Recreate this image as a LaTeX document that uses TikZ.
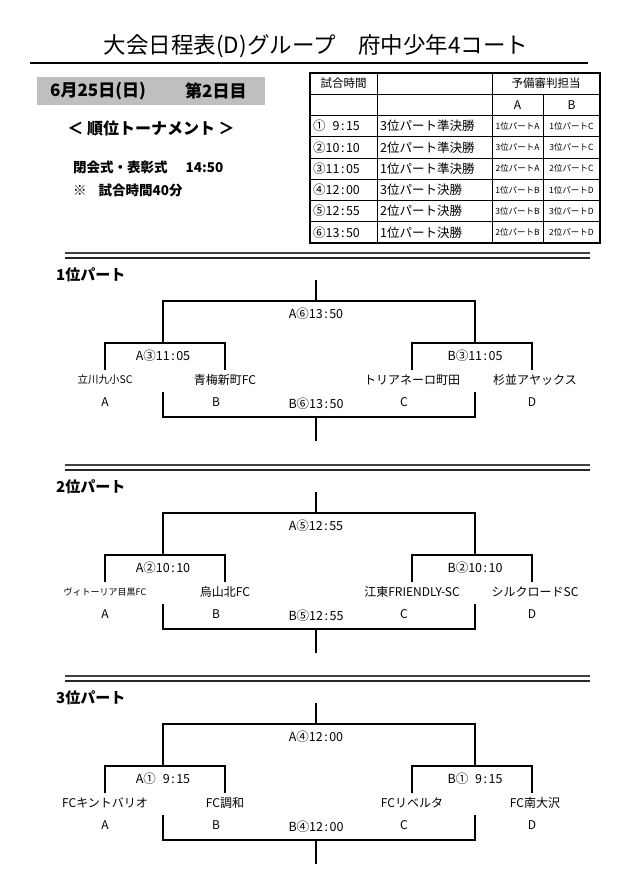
\documentclass[tikz,border=0pt]{standalone}
\usepackage{fontspec}
\setmainfont{Noto Sans CJK JP}
\newcommand\tm[2]{#1\kern1.5pt:\kern1.5pt#2}
\newcommand\fs[1]{\fontsize{#1}{#1}\selectfont}
\tikzset{
  br/.style={line width=2.2pt},
  brb/.style={line width=1.3pt},
  sepa/.style={line width=1.7pt, black!75},
  sepb/.style={line width=2pt, black!85},
  lbl/.style={font=\fs{12.5}, inner sep=0pt},
  team/.style={font=\fs{12}, inner sep=0pt},
  steam/.style={font=\fs{10.5}, inner sep=0pt},
  letter/.style={font=\fs{12}, inner sep=0pt},
  head/.style={font=\bfseries\fs{15}, anchor=west, inner sep=0pt},
  tout/.style={line width=1.3pt},
  tin/.style={line width=0.8pt},
  tcell/.style={font=\fs{12.5}, inner sep=0pt, anchor=west},
  tsmall/.style={font=\fs{8.5}, inner sep=0pt},
  thead/.style={font=\fs{11.5}, inner sep=0pt},
}
\newcommand\brk[2]{%
\begin{scope}[shift={(0,#2)}]
  \draw[sepa] (65,0) -- (590,0);
  \draw[sepb] (65,4.5) -- (590,4.5);
  \coordinate (#1a) at (316,27);
  \coordinate (#1b) at (316,48);
  \coordinate (#1c) at (163,90);
  \coordinate (#1d) at (475,90);
  \coordinate (#1e1) at (105,117);
  \coordinate (#1e2) at (225,117);
  \coordinate (#1e3) at (412,117);
  \coordinate (#1e4) at (532,117);
  \coordinate (#1f1) at (163,139);
  \coordinate (#1f2) at (475,139);
  \coordinate (#1h) at (316,164);
  \coordinate (#1g) at (316,188);
  \draw[br] (#1a) -- (#1b);
  \draw[br] (#1c) |- (#1b) -| (#1d);
  \draw[br] (#1e1) |- (#1c) -| (#1e2);
  \draw[br] (#1e3) |- (#1d) -| (#1e4);
  \draw[brb] (#1f1) |- (#1h) -| (#1f2);
  \draw[brb] (#1h) -- (#1g);
\end{scope}}
\begin{document}
\begin{tikzpicture}[x=1pt,y=-1pt]
\useasboundingbox (0,0) rectangle (639,883);
% title
\node[font=\fs{22.5}, inner sep=0pt] (title) at (316,46) {大会日程表(D)グループ　府中少年4コート};
\draw[line width=2pt] (30,63) -- (588,63);
% date box
\node[fill=black!25, minimum width=228pt, minimum height=28pt, inner sep=0pt, anchor=north west] (datebox) at (37,77) {};
\node[font=\bfseries\fs{17}, anchor=west, inner sep=0pt] (date) at (50,91) {6月25日(日)};
\node[font=\bfseries\fs{17}, anchor=west, inner sep=0pt] (day) at (185,91) {第2日目};
\node[font=\bfseries\fs{16}, inner sep=0pt] (sub) at (151,128) {＜ 順位トーナメント ＞};
\node[font=\bfseries\fs{13.5}, anchor=west, inner sep=0pt] (close) at (73,167) {閉会式・表彰式\hspace{18pt}14:50};
\node[font=\bfseries\fs{13.5}, anchor=west, inner sep=0pt] (note) at (73,190) {※\hspace{12pt}試合時間40分};
% table
\draw[tin] (310,94.25) -- (600,94.25);
\foreach \yy in {115.5,136.75,158,179.25,200.5,221.75} \draw[tin] (310,\yy) -- (600,\yy);
\draw[tin] (377,73) -- (377,243);
\draw[tin] (492,73) -- (492,243);
\draw[tin] (543,94.25) -- (543,243);
\draw[tout] (310,73) rectangle (600,243);
\node[thead] (th1) at (343.5,83.6) {試合時間};
\node[thead] (th2) at (546,83.6) {予備審判担当};
\node[thead, font=\fs{12}] (thA) at (517.5,104.9) {A};
\node[thead, font=\fs{12}] (thB) at (571.5,104.9) {B};
\node[tcell] (c11) at (313,126.1) {①\hphantom{1}\tm{9}{15}};
\node[tcell] (c21) at (313,147.4) {②\tm{10}{10}};
\node[tcell] (c31) at (313,168.6) {③\tm{11}{05}};
\node[tcell] (c41) at (313,189.9) {④\tm{12}{00}};
\node[tcell] (c51) at (313,211.1) {⑤\tm{12}{55}};
\node[tcell] (c61) at (313,232.4) {⑥\tm{13}{50}};
\node[tcell] (c12) at (380,126.1) {3位パート準決勝};
\node[tcell] (c22) at (380,147.4) {2位パート準決勝};
\node[tcell] (c32) at (380,168.6) {1位パート準決勝};
\node[tcell] (c42) at (380,189.9) {3位パート決勝};
\node[tcell] (c52) at (380,211.1) {2位パート決勝};
\node[tcell] (c62) at (380,232.4) {1位パート決勝};
\node[tsmall] (c13) at (517.5,126.1) {1位パートA};
\node[tsmall] (c23) at (517.5,147.4) {3位パートA};
\node[tsmall] (c33) at (517.5,168.6) {2位パートA};
\node[tsmall] (c43) at (517.5,189.9) {1位パートB};
\node[tsmall] (c53) at (517.5,211.1) {3位パートB};
\node[tsmall] (c63) at (517.5,232.4) {2位パートB};
\node[tsmall] (c14) at (571.5,126.1) {1位パートC};
\node[tsmall] (c24) at (571.5,147.4) {3位パートC};
\node[tsmall] (c34) at (571.5,168.6) {2位パートC};
\node[tsmall] (c44) at (571.5,189.9) {1位パートD};
\node[tsmall] (c54) at (571.5,211.1) {3位パートD};
\node[tsmall] (c64) at (571.5,232.4) {2位パートD};
% section 1
\brk{p}{253}
\begin{scope}[shift={(0,253)}]
  \node[head] (ph) at (56,22) {1位パート};
  \node[lbl] (pt) at (316,61) {A⑥\tm{13}{50}};
  \node[lbl] (pl) at (163,103) {A③\tm{11}{05}};
  \node[lbl] (pr) at (475,103) {B③\tm{11}{05}};
  \node[steam] (pn1) at (105,127) {立川九小SC};
  \node[team] (pn2) at (225,127) {青梅新町FC};
  \node[team] (pn3) at (412,127) {トリアネーロ町田};
  \node[team] (pn4) at (535,127) {杉並アヤックス};
  \node[letter] (pA) at (105,149) {A};
  \node[letter] (pB) at (216,149) {B};
  \node[letter] (pC) at (404,149) {C};
  \node[letter] (pD) at (532,149) {D};
  \node[lbl] (pbt) at (316,151) {B⑥\tm{13}{50}};
\end{scope}
% section 2
\brk{q}{465}
\begin{scope}[shift={(0,465)}]
  \node[head] (qh) at (56,22) {2位パート};
  \node[lbl] (qt) at (316,61) {A⑤\tm{12}{55}};
  \node[lbl] (ql) at (163,103) {A②\tm{10}{10}};
  \node[lbl] (qr) at (475,103) {B②\tm{10}{10}};
  \node[font=\fs{9}, inner sep=0pt] (qn1) at (105,127) {ヴィトーリア目黒FC};
  \node[team] (qn2) at (225,127) {烏山北FC};
  \node[team] (qn3) at (412,127) {江東FRIENDLY-SC};
  \node[team] (qn4) at (535,127) {シルクロードSC};
  \node[letter] (qA) at (105,149) {A};
  \node[letter] (qB) at (216,149) {B};
  \node[letter] (qC) at (404,149) {C};
  \node[letter] (qD) at (532,149) {D};
  \node[lbl] (qbt) at (316,151) {B⑤\tm{12}{55}};
\end{scope}
% section 3
\brk{r}{676}
\begin{scope}[shift={(0,676)}]
  \node[head] (rh) at (56,22) {3位パート};
  \node[lbl] (rt) at (316,61) {A④\tm{12}{00}};
  \node[lbl] (rl) at (163,103) {A①\hphantom{1}\tm{9}{15}};
  \node[lbl] (rr) at (475,103) {B①\hphantom{1}\tm{9}{15}};
  \node[team] (rn1) at (105,127) {FCキントバリオ};
  \node[team] (rn2) at (225,127) {FC調和};
  \node[team] (rn3) at (412,127) {FCリベルタ};
  \node[team] (rn4) at (535,127) {FC南大沢};
  \node[letter] (rA) at (105,149) {A};
  \node[letter] (rB) at (216,149) {B};
  \node[letter] (rC) at (404,149) {C};
  \node[letter] (rD) at (532,149) {D};
  \node[lbl] (rbt) at (316,151) {B④\tm{12}{00}};
\end{scope}
\end{tikzpicture}
\end{document}
